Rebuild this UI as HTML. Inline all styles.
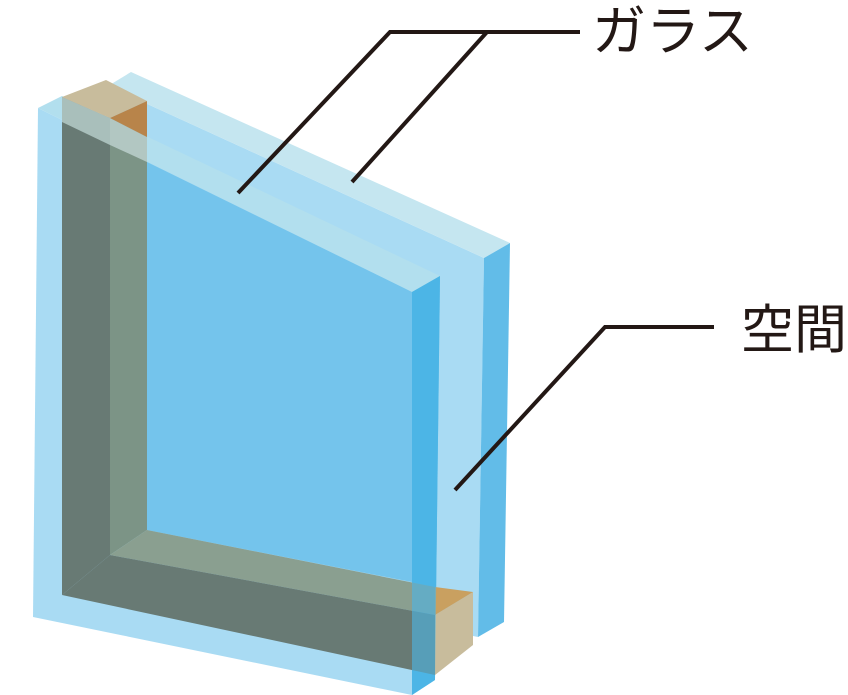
<!DOCTYPE html>
<html><head><meta charset="utf-8"><style>
html,body{margin:0;padding:0;background:#fff;}
svg{display:block;}
text{font-family:"Liberation Sans","Noto Sans CJK JP",sans-serif;fill:#231815;}
</style></head><body>
<svg width="848" height="695" viewBox="0 0 848 695" xmlns="http://www.w3.org/2000/svg">
<!-- back pane -->
<polygon points="108,86 484,258 478,637 100,560" fill="#a9dbf3"/>
<polygon points="108,86 131,72 510,243 484,258" fill="#c5e6f0"/>
<polygon points="484,258 510,243 504,622 478,637" fill="#62bce8"/>
<!-- front pane base -->
<polygon points="38,108 412,292 412,695 33,617" fill="#a9dbf3"/>
<polygon points="38,108 62,96 440,276 412,292" fill="#b2dfee"/>
<polygon points="147,162 412,292 412,582 147,530" fill="#74c4ec"/>
<polygon points="412,292 440,276 435,680 412,695" fill="#4db5e6"/>
<!-- spacer -->
<polygon points="62,97 110,118 110,555 62,595" fill="#687a74"/>
<polygon points="62,97 110,118 110,145 62,122" fill="#a9bfbb"/>
<polygon points="110,118 147,137 147,530 110,555" fill="#7c9486"/>
<polygon points="110,118 147,137 147,162 110,145" fill="#b2c7c2"/>
<polygon points="62,97 106,80 147,101 110,118" fill="#c8bc9c"/>
<polygon points="110,118 147,101 147,137" fill="#b8844a"/>
<polygon points="110,555 147,530 435,587 435,615" fill="#8a9f90"/>
<polygon points="62,595 110,555 435,615 435,675" fill="#687a74"/>
<polygon points="435,615 473,592 473,645 435,675" fill="#c8bc9c"/>
<polygon points="435,587 473,592 435,615" fill="#c9a060"/>
<!-- front side face overlay -->
<polygon points="412,292 440,276 435,680 412,695" fill="#4db5e6" opacity="0.6"/>
<!-- leader lines -->
<polyline points="238,193 390,32 580,32" fill="none" stroke="#231815" stroke-width="4"/>
<polyline points="352,182 487,32" fill="none" stroke="#231815" stroke-width="4"/>
<polyline points="455,490 605,327 714,327" fill="none" stroke="#231815" stroke-width="4"/>
<text x="592" y="50" font-size="54">ガラス</text>
<text x="741" y="348" font-size="53">空間</text>
</svg>
</body></html>
